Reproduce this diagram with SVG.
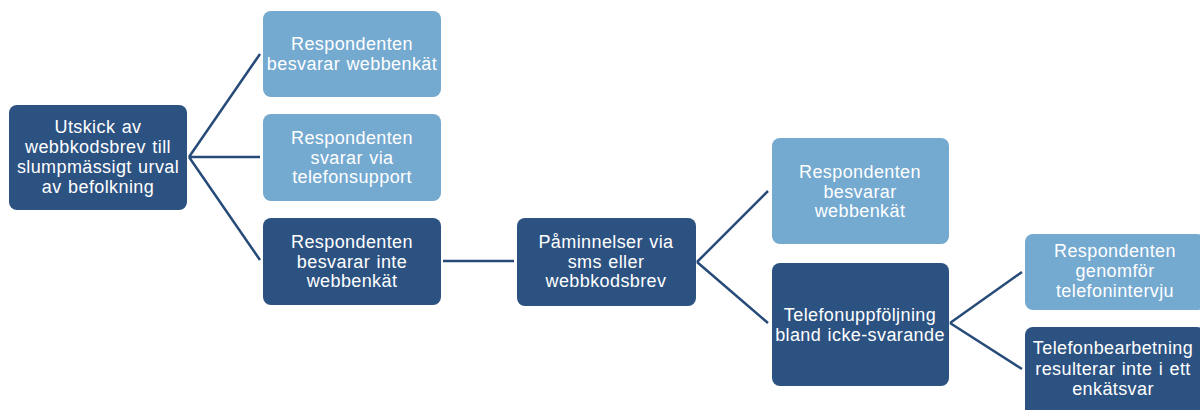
<svg xmlns="http://www.w3.org/2000/svg" width="1200" height="410" viewBox="0 0 1200 410">
<style>
.dk{fill:#2C5282;}
.lt{fill:#74A9D0;}
text{font-family:"Liberation Sans",Arial,sans-serif;font-size:18px;letter-spacing:0.4px;word-spacing:1px;fill:#FFFFFF;text-anchor:middle;}
.c{fill:none;stroke:#274B78;stroke-width:2.5;}
</style>
<rect width="1200" height="410" fill="#FFFFFF"/>
<g id="connectors">
<path class="c" d="M189,157 L260,54 M189,157 L260,157 M189,157 L260,260"/>
<path class="c" d="M443,261 L514,261"/>
<path class="c" d="M697,262 L768,191 M697,262 L768,323"/>
<path class="c" d="M950,323 L1022,272 M950,323 L1022,369"/>
</g>
<g id="n1"><rect class="dk" x="9" y="105" width="178" height="105" rx="8"/>
<text x="98" y="133">Utskick av</text><text x="98" y="153">webbkodsbrev till</text><text x="98" y="173">slumpmässigt urval</text><text x="98" y="193">av befolkning</text></g>
<g id="n2"><rect class="lt" x="263" y="11" width="178" height="86" rx="8"/>
<text x="352" y="50">Respondenten</text><text x="352" y="70">besvarar webbenkät</text></g>
<g id="n3"><rect class="lt" x="263" y="114" width="178" height="87" rx="8"/>
<text x="352" y="144">Respondenten</text><text x="352" y="164">svarar via</text><text x="352" y="183">telefonsupport</text></g>
<g id="n4"><rect class="dk" x="263" y="218" width="178" height="87" rx="8"/>
<text x="352" y="248">Respondenten</text><text x="352" y="268">besvarar inte</text><text x="352" y="287">webbenkät</text></g>
<g id="n5"><rect class="dk" x="517" y="218" width="179" height="88" rx="8"/>
<text x="606" y="248">Påminnelser via</text><text x="606" y="268">sms eller</text><text x="606" y="287">webbkodsbrev</text></g>
<g id="n6"><rect class="lt" x="772" y="138" width="177" height="106" rx="8"/>
<text x="860" y="178">Respondenten</text><text x="860" y="198">besvarar</text><text x="860" y="217">webbenkät</text></g>
<g id="n7"><rect class="dk" x="772" y="263" width="177" height="123" rx="8"/>
<text x="860" y="321">Telefonuppföljning</text><text x="860" y="341">bland icke-svarande</text></g>
<g id="n8"><rect class="lt" x="1025" y="234" width="180" height="76" rx="8"/>
<text x="1115" y="257">Respondenten</text><text x="1115" y="277">genomför</text><text x="1115" y="297">telefonintervju</text></g>
<g id="n9"><rect class="dk" x="1025" y="327" width="180" height="94" rx="8"/>
<text x="1113" y="354">Telefonbearbetning</text><text x="1113" y="375">resulterar inte i ett</text><text x="1113" y="395">enkätsvar</text></g>
</svg>
